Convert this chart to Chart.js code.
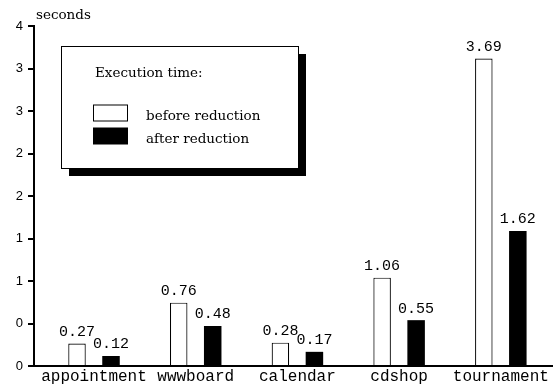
<!DOCTYPE html>
<html><head><meta charset="utf-8">
<script src="https://cdn.jsdelivr.net/npm/chart.js@4"></script>
<style>html,body{margin:0;padding:0;background:#fff;} #wrap{width:553px;height:388px;position:relative}</style>
</head><body><div id="wrap"><canvas id="c" width="553" height="388"></canvas></div>
<script>
const categories = ["appointment", "wwwboard", "calendar", "cdshop", "tournament"];
const beforeReduction = [0.27, 0.76, 0.28, 1.06, 3.69];
const afterReduction = [0.12, 0.48, 0.17, 0.55, 1.62];
const seriesNames = ["before reduction", "after reduction"];
const yTickLabels = ["0", "0", "1", "1", "2", "2", "3", "3", "4"];
const yAxisMax = 4.08;
const yAxisTitle = "seconds";
const legendTitle = "Execution time:";

const valueLabels = {
  id: 'valueLabels',
  afterDatasetsDraw(chart) {
    const ctx = chart.ctx;
    ctx.save();
    ctx.font = '15px "Liberation Mono", monospace';
    ctx.fillStyle = '#000';
    ctx.textAlign = 'center';
    ctx.textBaseline = 'bottom';
    chart.data.datasets.forEach((ds, di) => {
      const meta = chart.getDatasetMeta(di);
      meta.data.forEach((el, i) => {
        ctx.fillText(ds.data[i].y.toFixed(2), el.x, el.y - 4);
      });
    });
    ctx.restore();
  }
};

const boxLegend = {
  id: 'boxLegend',
  afterDraw(chart) {
    const ctx = chart.ctx;
    ctx.save();
    // axis title
    ctx.fillStyle = '#000';
    ctx.font = '13.5px "DejaVu Serif", serif';
    ctx.textAlign = 'left';
    ctx.textBaseline = 'middle';
    ctx.fillText(yAxisTitle, 36, 15);
    // legend box with shadow
    const bx = 61, by = 46, bw = 237, bh = 122, sh = 8;
    ctx.fillStyle = '#000';
    ctx.fillRect(bx + sh, by + sh, bw, bh);
    ctx.fillStyle = '#fff';
    ctx.fillRect(bx, by, bw, bh);
    ctx.strokeStyle = '#000';
    ctx.lineWidth = 1;
    ctx.strokeRect(bx + 0.5, by + 0.5, bw, bh);
    ctx.fillStyle = '#000';
    ctx.font = '13.5px "DejaVu Serif", serif';
    ctx.fillText(legendTitle, 95, 73);
    const ds = chart.data.datasets;
    const rows = [112.5, 135.5];
    ds.forEach((d, i) => {
      const y = rows[i];
      ctx.fillStyle = d.backgroundColor;
      ctx.fillRect(93, y - 8, 35, 17);
      if (i === 0) { ctx.strokeStyle = '#000'; ctx.lineWidth = 1; ctx.strokeRect(93.5, y - 7.5, 34, 16); }
      ctx.fillStyle = '#000';
      ctx.fillText(d.label, 146, y + 4);
    });
    ctx.restore();
  }
};

new Chart(document.getElementById('c'), {
  type: 'bar',
  data: {
    datasets: [
      { label: seriesNames[0], data: categories.map((c, i) => ({ x: i + 1, y: beforeReduction[i] })),
        backgroundColor: '#fff', borderColor: '#000', borderWidth: 1.2,
        categoryPercentage: 0.6686, barPercentage: 0.515 },
      { label: seriesNames[1], data: categories.map((c, i) => ({ x: i + 1, y: afterReduction[i] })),
        backgroundColor: '#000', borderColor: '#000', borderWidth: 0,
        categoryPercentage: 0.6686, barPercentage: 0.515 }
    ]
  },
  options: {
    responsive: false, animation: false, devicePixelRatio: 1,
    layout: { padding: { top: 26, right: 0, left: 0, bottom: 0 } },
    plugins: { legend: { display: false }, tooltip: { enabled: false } },
    scales: {
      x: {
        type: 'linear', min: 0.41, max: 5.513, offset: false,
        grid: { display: false, drawTicks: false },
        border: { display: true, color: '#000', width: 2 },
        ticks: { font: { family: 'Liberation Mono', size: 16 }, color: '#000', padding: 1,
          autoSkip: false, maxRotation: 0, callback: v => categories[v - 1] ?? '' },
        afterBuildTicks: s => { s.ticks = categories.map((c, i) => ({ value: i + 1 })); },
        afterFit: s => { s.height = 22; }
      },
      y: {
        type: 'linear', min: 0, max: yAxisMax,
        grid: { display: true, drawOnChartArea: false, drawTicks: true, tickLength: 6, color: '#000', lineWidth: 2 },
        border: { display: true, color: '#000', width: 2 },
        ticks: { font: { family: 'Liberation Sans', size: 13 }, color: '#000', padding: 5,
          callback: (v, i) => yTickLabels[i] },
        afterBuildTicks: s => { s.ticks = yTickLabels.map((l, i) => ({ value: i * yAxisMax / (yTickLabels.length - 1) })); },
        afterFit: s => { s.width = 34; }
      }
    }
  },
  plugins: [valueLabels, boxLegend]
});
</script></body></html>
